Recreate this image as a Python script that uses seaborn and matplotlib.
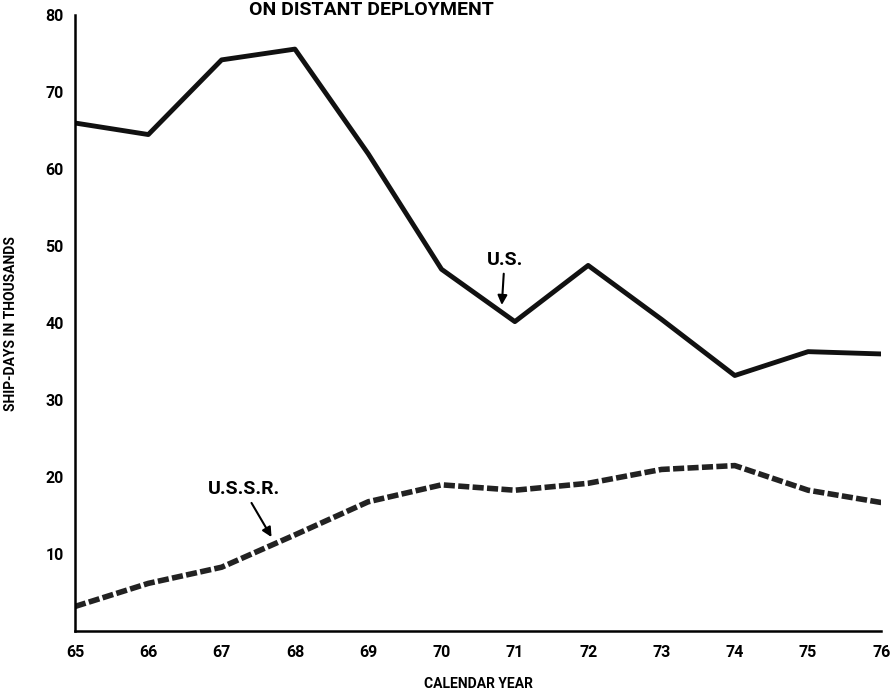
import matplotlib
matplotlib.use("Agg")
import matplotlib.pyplot as plt
import pandas as pd
import seaborn as sns

years = [65, 66, 67, 68, 69, 70, 71, 72, 73, 74, 75, 76]
us = [66, 64.5, 74.2, 75.6, 62, 47, 40.2, 47.5, 40.5, 33.2, 36.3, 36]
ussr = [3.2, 6.2, 8.3, 12.5, 16.8, 19, 18.3, 19.2, 21, 21.5, 18.3, 16.7]

df = pd.DataFrame({'year': years + years,
                   'value': us + ussr,
                   'country': ['U.S.'] * len(years) + ['U.S.S.R.'] * len(years)})

sns.set_style("white")
plt.rcParams['font.family'] = ['Roboto', 'DejaVu Sans']
plt.rcParams['font.weight'] = 'bold'
plt.rcParams['text.color'] = 'black'
plt.rcParams['xtick.color'] = 'black'
plt.rcParams['ytick.color'] = 'black'
plt.rcParams['axes.labelcolor'] = 'black'

fig = plt.figure(figsize=(8.96, 6.92), dpi=100)
ax = fig.add_axes([0.0837, 0.088, 0.9, 0.89])

sns.lineplot(data=df[df.country == 'U.S.'], x='year', y='value', color='#111111',
             linewidth=3.5, ax=ax, legend=False)
sns.lineplot(data=df[df.country == 'U.S.S.R.'], x='year', y='value', color='#222222',
             linewidth=4, ax=ax, legend=False, linestyle=(0, (2.0, 0.6)))

ax.set_xlim(65, 76)
ax.set_ylim(0, 80)
ax.set_xticks(years)
ax.set_xticklabels([str(y) for y in years])
ax.set_yticks(range(10, 90, 10))
for s in ['top', 'right']:
    ax.spines[s].set_visible(False)
for s in ['left', 'bottom']:
    ax.spines[s].set_linewidth(1.8)
    ax.spines[s].set_color('black')
ax.tick_params(direction='in', length=8, width=1.5, labelsize=11.5, pad=8)
ax.tick_params(axis='x', pad=10)

ax.set_xlabel('CALENDAR YEAR', fontsize=10, fontweight='bold', labelpad=12)
ax.set_ylabel('SHIP-DAYS IN THOUSANDS', fontsize=10, fontweight='bold', labelpad=20)

ax.annotate('U.S.', xy=(70.82, 42.0), xytext=(70.86, 48.2), fontsize=14,
            fontweight='bold', ha='center', va='center',
            arrowprops=dict(arrowstyle='-|>', color='black', lw=1.5, shrinkA=1))
ax.annotate('U.S.S.R.', xy=(67.7, 11.9), xytext=(67.3, 18.4), fontsize=14,
            fontweight='bold', ha='center', va='center',
            arrowprops=dict(arrowstyle='-|>', color='black', lw=1.5, shrinkA=1))

fig.text(0.415, 0.999, 'ON DISTANT DEPLOYMENT', fontsize=14, fontweight='bold',
         ha='center', va='top')

fig.savefig('out.png', dpi=100)
